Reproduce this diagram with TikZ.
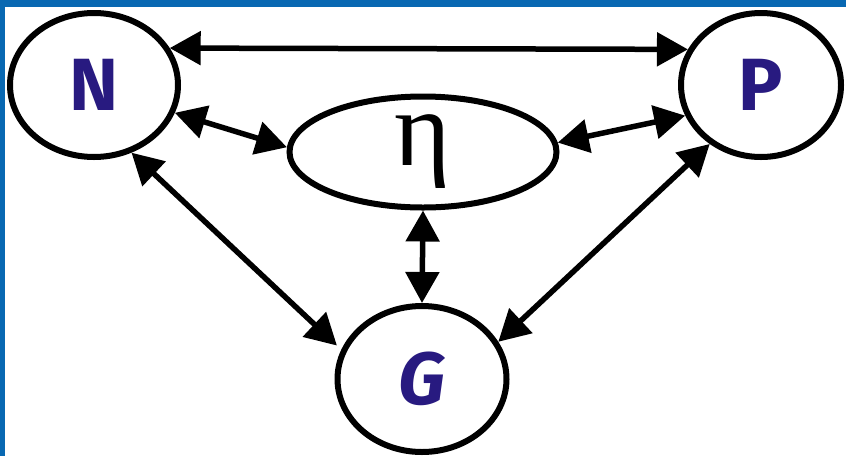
\documentclass[tikz,border=0pt]{standalone}
\usepackage{fontspec}
\usepackage{tikz}
\usetikzlibrary{shapes.geometric}
\usetikzlibrary{arrows.meta}
\newfontfamily\letterfont{Fira Sans}
\newfontfamily\greekfont{Liberation Serif}
\definecolor{frameblue}{RGB}{8,104,178}
\definecolor{letterblue}{RGB}{40,26,128}
\tikzstyle{bubble} = [ellipse, draw=black, line width=6pt, inner sep=0pt]
\tikzstyle{letter} = [text=letterblue, font=\letterfont\bfseries\fontsize{74}{74}\selectfont]
\tikzstyle{link} = [line width=5.5pt, {Triangle[length=31pt,width=33pt]}-{Triangle[length=31pt,width=33pt]}]

\begin{document}
\begin{tikzpicture}[x=1pt, y=-1pt]
        \useasboundingbox (0,0) rectangle (846,456);
        \fill[frameblue] (0,0) rectangle (846,7);
        \fill[frameblue] (0,0) rectangle (5,456);

        \node (N) [bubble, letter, minimum width=168pt, minimum height=144pt] at (94,85) {N};
        \node (P) [bubble, letter, minimum width=160pt, minimum height=144pt] at (761,85) {P};
        \node (eta) [bubble, minimum width=267pt, minimum height=111pt, font=\greekfont\fontsize{108}{108}\selectfont] at (423,152) {η};
        \node (G) [bubble, letter, minimum width=169pt, minimum height=146pt] at (422,379) {\itshape G};

        \draw [link] (N.26) -- (P.154);
        \draw [link] (N.-19) -- (eta.178);
        \draw [link] (eta.4) -- (P.-158);
        \draw [link, shorten >=6pt] (N.-61) -- (G.160);
        \draw [link] (P.-131) -- (G.26);
        \draw [link] (eta.-90) -- (G.90);
    \end{tikzpicture}
\end{document}
